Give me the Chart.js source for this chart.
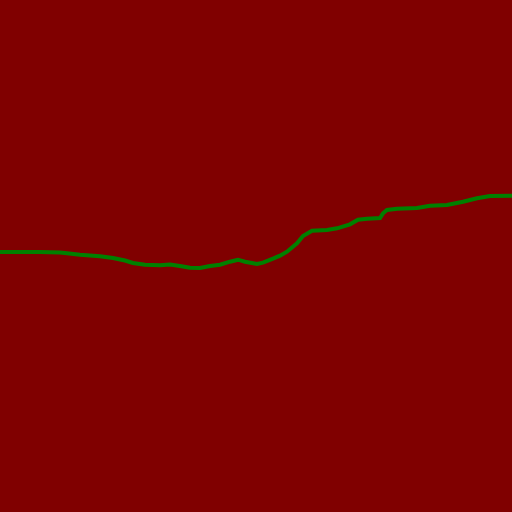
<!DOCTYPE html>
<html>
<head>
<meta charset="utf-8">
<style>
html, body { margin: 0; padding: 0; background: #800000; overflow: hidden; }
canvas { display: block; background: #800000; }
</style>
<script src="https://cdn.jsdelivr.net/npm/chart.js@4"></script>
</head>
<body>
<canvas id="chart" width="512" height="512"></canvas>
<script>
// values
const xValues = [0, 40, 60, 67, 80, 100, 113, 125, 133, 145, 160, 170, 180, 190, 200, 210, 220, 230, 238, 245, 257, 263, 273, 280, 287, 297, 303, 312, 327, 337, 350, 358, 367, 380, 383, 387, 397, 417, 430, 447, 463, 477, 490, 512];
const yValues = [252, 252, 252.5, 253.3, 254.7, 256.3, 258, 260.5, 263, 264.7, 265.3, 264.5, 266, 267.7, 268, 266, 264.7, 261.7, 259.7, 261.7, 264, 262.7, 258.7, 255.7, 251.7, 243.3, 236, 230.7, 230, 228.3, 224.3, 219.7, 218.7, 218, 213.3, 210, 208.7, 208, 205.7, 205, 201.7, 198.3, 196, 195.7];

new Chart(document.getElementById('chart'), {
    type: 'line',
    data: {
        datasets: [{
            data: xValues.map((x, i) => ({ x: x, y: yValues[i] })),
            borderColor: '#008000',
            borderWidth: 4,
            pointRadius: 0,
            tension: 0,
            fill: false
        }]
    },
    options: {
        responsive: false,
        animation: false,
        layout: { padding: 0 },
        plugins: { legend: { display: false }, tooltip: { enabled: false } },
        scales: {
            x: { type: 'linear', min: 0, max: 512, display: false },
            y: { type: 'linear', min: 0, max: 512, reverse: true, display: false }
        }
    }
});
</script>
</body>
</html>
